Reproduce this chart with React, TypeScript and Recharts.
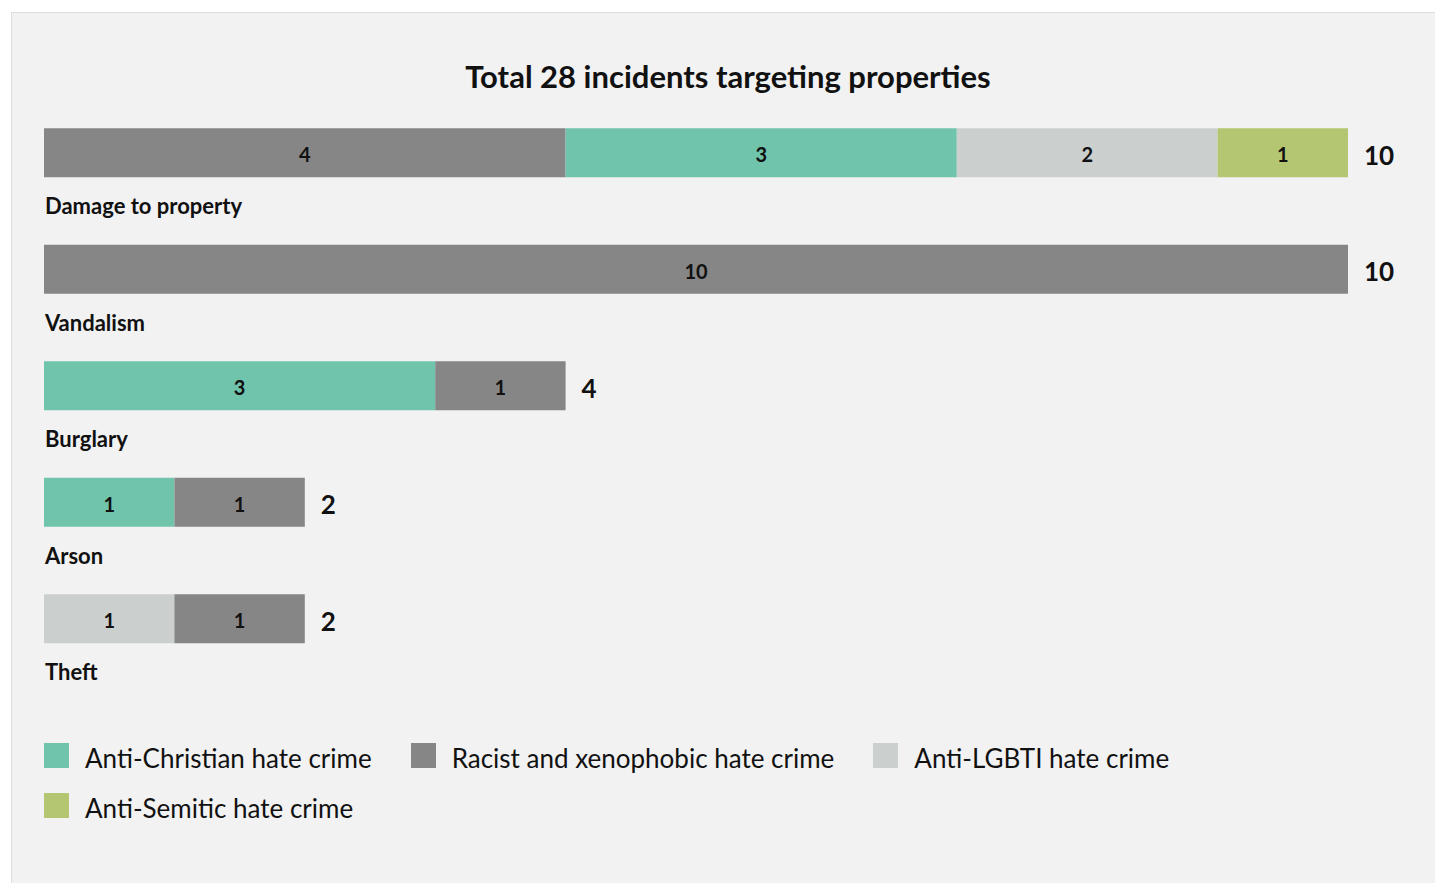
import React from 'react';
import { BarChart, Bar, XAxis, YAxis, Cell, LabelList } from 'recharts';

const title = 'Total 28 incidents targeting properties';

const categories = ['Anti-Christian hate crime', 'Racist and xenophobic hate crime', 'Anti-LGBTI hate crime', 'Anti-Semitic hate crime'];
const categoryColors = ['#70c4ab', '#868686', '#cbcfce', '#b4c671'];

const rowNames = ['Damage to property', 'Vandalism', 'Burglary', 'Arson', 'Theft'];
// segments in drawing order, left to right: category index + count
const rowSegmentTypes = [[1, 0, 2, 3], [1], [0, 1], [0, 1], [2, 1]];
const rowSegmentValues = [[4, 3, 2, 1], [10], [3, 1], [1, 1], [1, 1]];
const rowTotals = [10, 10, 4, 2, 2];

const SEGS = [0, 1, 2, 3];
const FONT = 'Lato, "Noto Sans", sans-serif';

const data = rowNames.map((name, i) => {
  const row: any = { name, total: rowTotals[i] };
  SEGS.forEach((j) => { row['s' + j] = rowSegmentValues[i][j] ?? 0; });
  return row;
});

const SegmentLabel = (props: any) => {
  const { x, y, width, height, value } = props;
  if (!value) return null;
  return (
    <text x={x + width / 2} y={y + height / 2 + 1.5} textAnchor="middle" dominantBaseline="central"
      fontFamily={FONT} fontWeight={700} fontSize={20} fill="#111">{value}</text>
  );
};

// drawn on the first segment of each row: category name below, total at bar end
const RowLabel = (props: any) => {
  const { x, y, width, height, value, index } = props;
  const total = rowTotals[index];
  const end = x + (width / value) * total;
  return (
    <g>
      <text x={end + 16} y={y + height / 2 + 2} dominantBaseline="central"
        fontFamily={FONT} fontWeight={700} fontSize={26} fill="#111">{total}</text>
      <text x={x + 1} y={y + height + 37}
        fontFamily={FONT} fontWeight={700} fontSize={22} fill="#111">{rowNames[index]}</text>
    </g>
  );
};

export default function App() {
  return (
    <div style={{ position: 'relative', width: 1435, height: 883, overflow: 'hidden', background: '#fff' }}>
      <style>{'body{margin:0;overflow:hidden}'}</style>
      <div style={{ position: 'absolute', left: 11, top: 12, width: 1430, height: 880, border: '1px solid #dedede', background: '#f2f2f2' }} />
      <div style={{ position: 'absolute', left: 378, width: 700, top: 57, textAlign: 'center', fontFamily: FONT, fontWeight: 700, fontSize: 31, color: '#111' }}>
        {title}
      </div>
      <div style={{ position: 'absolute', left: 0, top: 0 }}>
        <BarChart width={1435} height={720} data={data} layout="vertical" barSize={49}
          margin={{ top: 94.25, right: 87, left: 44, bottom: 43.25 }}>
          <XAxis type="number" domain={[0, 10]} hide />
          <YAxis type="category" dataKey="name" hide />
          {SEGS.map((j) => (
            <Bar key={j} dataKey={'s' + j} stackId="a" isAnimationActive={false}>
              {data.map((_, i) => (
                <Cell key={i} fill={categoryColors[rowSegmentTypes[i][j] ?? 0]} />
              ))}
              <LabelList dataKey={'s' + j} content={<SegmentLabel />} />
              {j === 0 && <LabelList dataKey="s0" content={<RowLabel />} />}
            </Bar>
          ))}
        </BarChart>
      </div>
      <div style={{ position: 'absolute', left: 44, top: 743, width: 1380, display: 'flex', flexWrap: 'wrap', columnGap: 39, rowGap: 25 }}>
        {categories.map((c, i) => (
          <div key={c} style={{ display: 'flex', alignItems: 'flex-start', height: 25 }}>
            <div style={{ width: 25, height: 25, background: categoryColors[i], marginRight: 16 }} />
            <span style={{ fontFamily: FONT, fontSize: 26, lineHeight: '32px', marginTop: -1, color: '#111', whiteSpace: 'nowrap' }}>{c}</span>
          </div>
        ))}
      </div>
    </div>
  );
}
